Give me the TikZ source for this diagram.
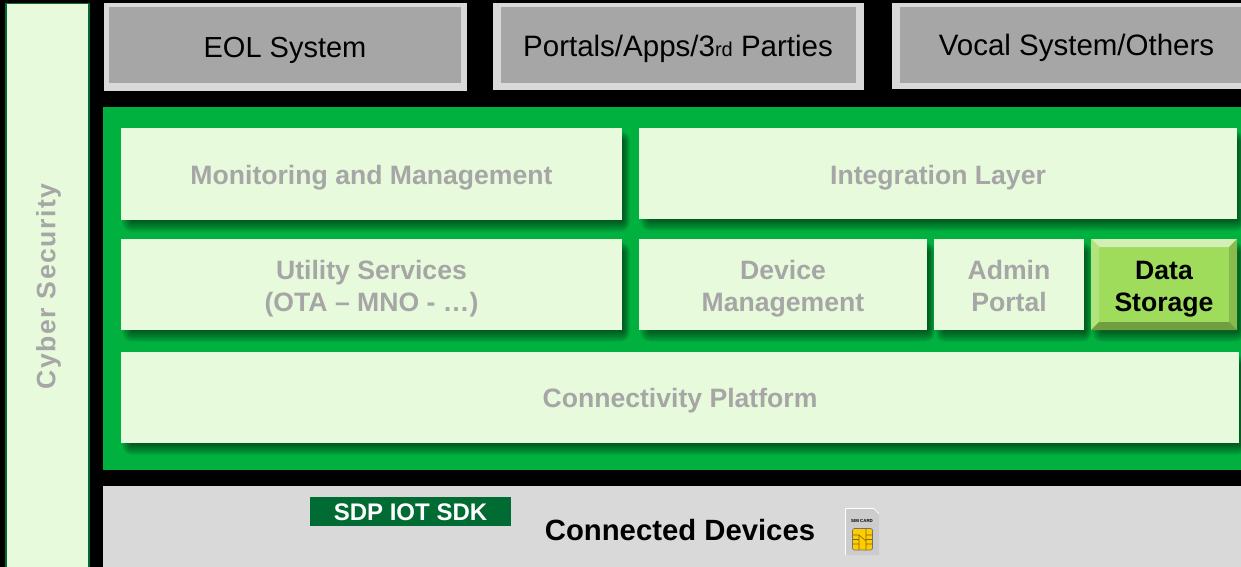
\documentclass[tikz,border=0pt]{standalone}
\usepackage{fontspec}
\setmainfont{Liberation Sans}
\newcommand{\txtA}{\fontsize{29}{32}\selectfont}
\newcommand{\txtAb}{\fontsize{29.5}{32}\selectfont}
\newcommand{\txtB}{\fontsize{26.6}{32}\selectfont\bfseries}
\definecolor{paneltint}{HTML}{E8FADC}
\definecolor{mutedtext}{HTML}{A6A6A6}
\definecolor{platgreen}{HTML}{00B140}
\definecolor{sdkgreen}{HTML}{006B33}
\definecolor{lightgrey}{HTML}{D9D9D9}
\definecolor{datagreen}{HTML}{9FDC5C}
\definecolor{chipgold}{HTML}{FFCC00}
\tikzset{
  panel/.style={inner sep=0pt,outer sep=0pt,align=center},
  extbox/.style={panel,fill=mutedtext},
  softbox/.style={panel,fill=paneltint},
  exttext/.style={panel,font=\txtA,text=black},
  softtext/.style={panel,font=\txtB,text=mutedtext,yshift=-4pt},
  datatext/.style={panel,font=\txtB,text=black,yshift=-5pt},
}
% \bx[style]{name}{x0}{y0}{x1}{y1}
\newcommand{\bx}[6][softbox]{%
  \pgfmathsetmacro{\cxv}{(#3+#5)/2}\pgfmathsetmacro{\cyv}{(#4+#6)/2}%
  \pgfmathsetmacro{\wv}{#5-#3}\pgfmathsetmacro{\hv}{#6-#4}%
  \node[#1,minimum width=\wv pt,minimum height=\hv pt] (#2) at (\cxv,\cyv) {};}
% blurred drop shadow
\newcommand{\shd}[4]{%
  \foreach \s in {0,1,...,10}{%
    \fill[black,opacity=.055,rounded corners=\s pt]
      ({#1+11-\s},{#2+13-\s}) rectangle ({#3+1+.7*\s},{#4+1+1.1*\s});}}
\begin{document}
\begin{tikzpicture}[x=1pt,y=-1pt]
\useasboundingbox (0,0) rectangle (1241,567);
\fill[black] (0,0) rectangle (1241,567);
% cyber security
\fill[sdkgreen] (4.7,2.7) rectangle (89.7,567);
\bx{cyber}{6.5}{4}{88}{567}
\node[softtext,yshift=4pt,rotate=90,font=\txtB\addfontfeature{LetterSpace=5.5}] (cybertext) at (48.5,286.5) {Cyber Security};
% external systems
\fill[lightgrey] (104,3) rectangle (467,91);
\fill[lightgrey] (493,3) rectangle (864,90);
\fill[lightgrey] (892,3) rectangle (1241,89);
\bx[extbox]{eol}{109}{7}{461}{83}
\bx[extbox]{portals}{501}{7}{856}{83}
\bx[extbox]{vocal}{900}{7}{1253}{83}
\node[exttext,yshift=-5pt] (eoltext) at (285,45) {EOL System};
\node[exttext,yshift=-4pt,font=\txtAb] (portalstext) at (678,45) {Portals/Apps/3{\fontsize{20}{20}\selectfont rd} Parties};
\node[exttext,yshift=-3pt,font=\txtAb] (vocaltext) at (1076.5,45) {Vocal System/Others};
% platform
\fill[platgreen] (103,107) rectangle (1241,470);
\shd{121}{128}{622}{220}
\shd{639}{128}{1237}{219}
\shd{121}{239}{622}{330}
\shd{639}{239}{927}{330}
\shd{934}{239}{1084}{330}
\shd{1091}{239}{1237}{330}
\shd{121}{352}{1239}{443}
\bx{monitor}{121}{128}{622}{220}
\bx{integ}{639}{128}{1237}{219}
\bx{utility}{121}{239}{622}{330}
\bx{device}{639}{239}{927}{330}
\bx{admin}{934}{239}{1084}{330}
\bx[panel,fill=datagreen]{data}{1091}{239}{1237}{330}
\node[softtext] (monitortext) at (monitor.center) {Monitoring and Management};
\node[softtext] (integtext) at (integ.center) {Integration Layer};
\node[softtext] (utilitytext) at (utility.center) {Utility Services\\(OTA – MNO - …)};
\node[softtext] (devicetext) at (device.center) {Device\\Management};
\node[softtext] (admintext) at (admin.center) {Admin\\Portal\vphantom{g}};
\fill[datagreen!45!white] (1091,239) -- (1237,239) -- (1229,247) -- (1099,247) -- cycle;
\fill[datagreen!80!white] (1091,239) -- (1099,247) -- (1099,322) -- (1091,330) -- cycle;
\fill[datagreen!85!black] (1237,239) -- (1229,247) -- (1229,322) -- (1237,330) -- cycle;
\fill[datagreen!72!black] (1091,330) -- (1099,322) -- (1229,322) -- (1237,330) -- cycle;
\node[datatext] (datalabel) at (data.center) {Data\\Storage};
\bx{conn}{121}{352}{1239}{443}
\node[softtext,yshift=1pt] (conntext) at (conn.center) {Connectivity Platform};
% devices
\fill[lightgrey] (103,486) rectangle (1241,567);
\bx[panel,fill=sdkgreen]{sdk}{310}{497}{511}{526}
\node[panel,text=white,font=\fontsize{24}{28}\selectfont\bfseries,yshift=-1pt] (sdktext) at (sdk.center) {SDP IOT SDK};
\node[panel,font=\fontsize{29.3}{32}\selectfont\bfseries,text=black] (devices) at (680,530) {Connected Devices};
% SIM card
\fill[black!20] (845.5,508.5) -- (874,508.5) -- (879,514) -- (879,555) -- (845.5,555) -- cycle;
\draw[white,line width=.6pt] (845.5,555) -- (845.5,508.5) -- (874,508.5) -- (879,514);
\node[panel,font=\fontsize{4.4}{5}\selectfont\bfseries,text=black] (simtext) at (862,520.5) {SIM CARD};
\fill[chipgold,draw=black!55,line width=.7pt,rounded corners=2pt] (852.5,528.5) rectangle (872.5,550);
\draw[black!50!chipgold,line width=.6pt] (852.5,535) -- (859,535) -- (859,544) -- (852.5,544)
  (852.5,539.5) -- (859,539.5)
  (872.5,535) -- (866,535) -- (866,544) -- (872.5,544)
  (872.5,539.5) -- (866,539.5)
  (859,535) -- (866,541) (866,528.5) -- (866,535)
  (859,550) -- (859,544) (866,550) -- (866,544);
\end{tikzpicture}
\end{document}
